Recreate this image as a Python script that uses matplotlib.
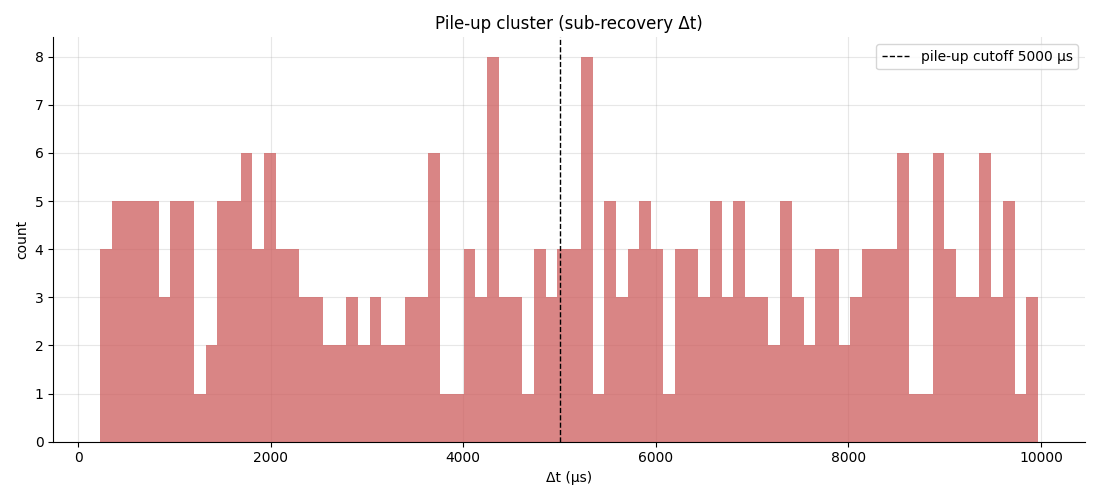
import numpy as np
import matplotlib
matplotlib.use("Agg")
from matplotlib import pyplot as plt

# histogram of inter-event spacing, 80 equal bins
dt_min = 228.0
dt_max = 9970.0
counts = [
    4, 5, 5, 5, 5, 3, 5, 5, 1, 2,
    5, 5, 6, 4, 6, 4, 4, 3, 3, 2,
    2, 3, 2, 3, 2, 2, 3, 3, 6, 1,
    1, 4, 3, 8, 3, 3, 1, 4, 3, 4,
    4, 8, 1, 5, 3, 4, 5, 4, 1, 4,
    4, 3, 5, 3, 5, 3, 3, 2, 5, 3,
    2, 4, 4, 2, 3, 4, 4, 4, 6, 1,
    1, 6, 4, 3, 3, 6, 3, 5, 1, 3,
]
cutoff = 5000

edges = np.linspace(dt_min, dt_max, len(counts) + 1)
centers = (edges[:-1] + edges[1:]) / 2

fig, ax = plt.subplots(figsize=(11, 5), dpi=100)
ax.hist(centers, bins=edges, weights=counts, color="indianred", alpha=0.75)
ax.axvline(cutoff, color="black", linestyle="--", linewidth=1,
           label=f"pile-up cutoff {cutoff} μs")

ax.set_title("Pile-up cluster (sub-recovery Δt)")
ax.set_xlabel("Δt (μs)")
ax.set_ylabel("count")
ax.grid(True, alpha=0.3)
ax.set_axisbelow(True)
ax.spines["top"].set_visible(False)
ax.spines["right"].set_visible(False)
ax.legend(loc="upper right")

fig.tight_layout()
fig.savefig("out.png")
